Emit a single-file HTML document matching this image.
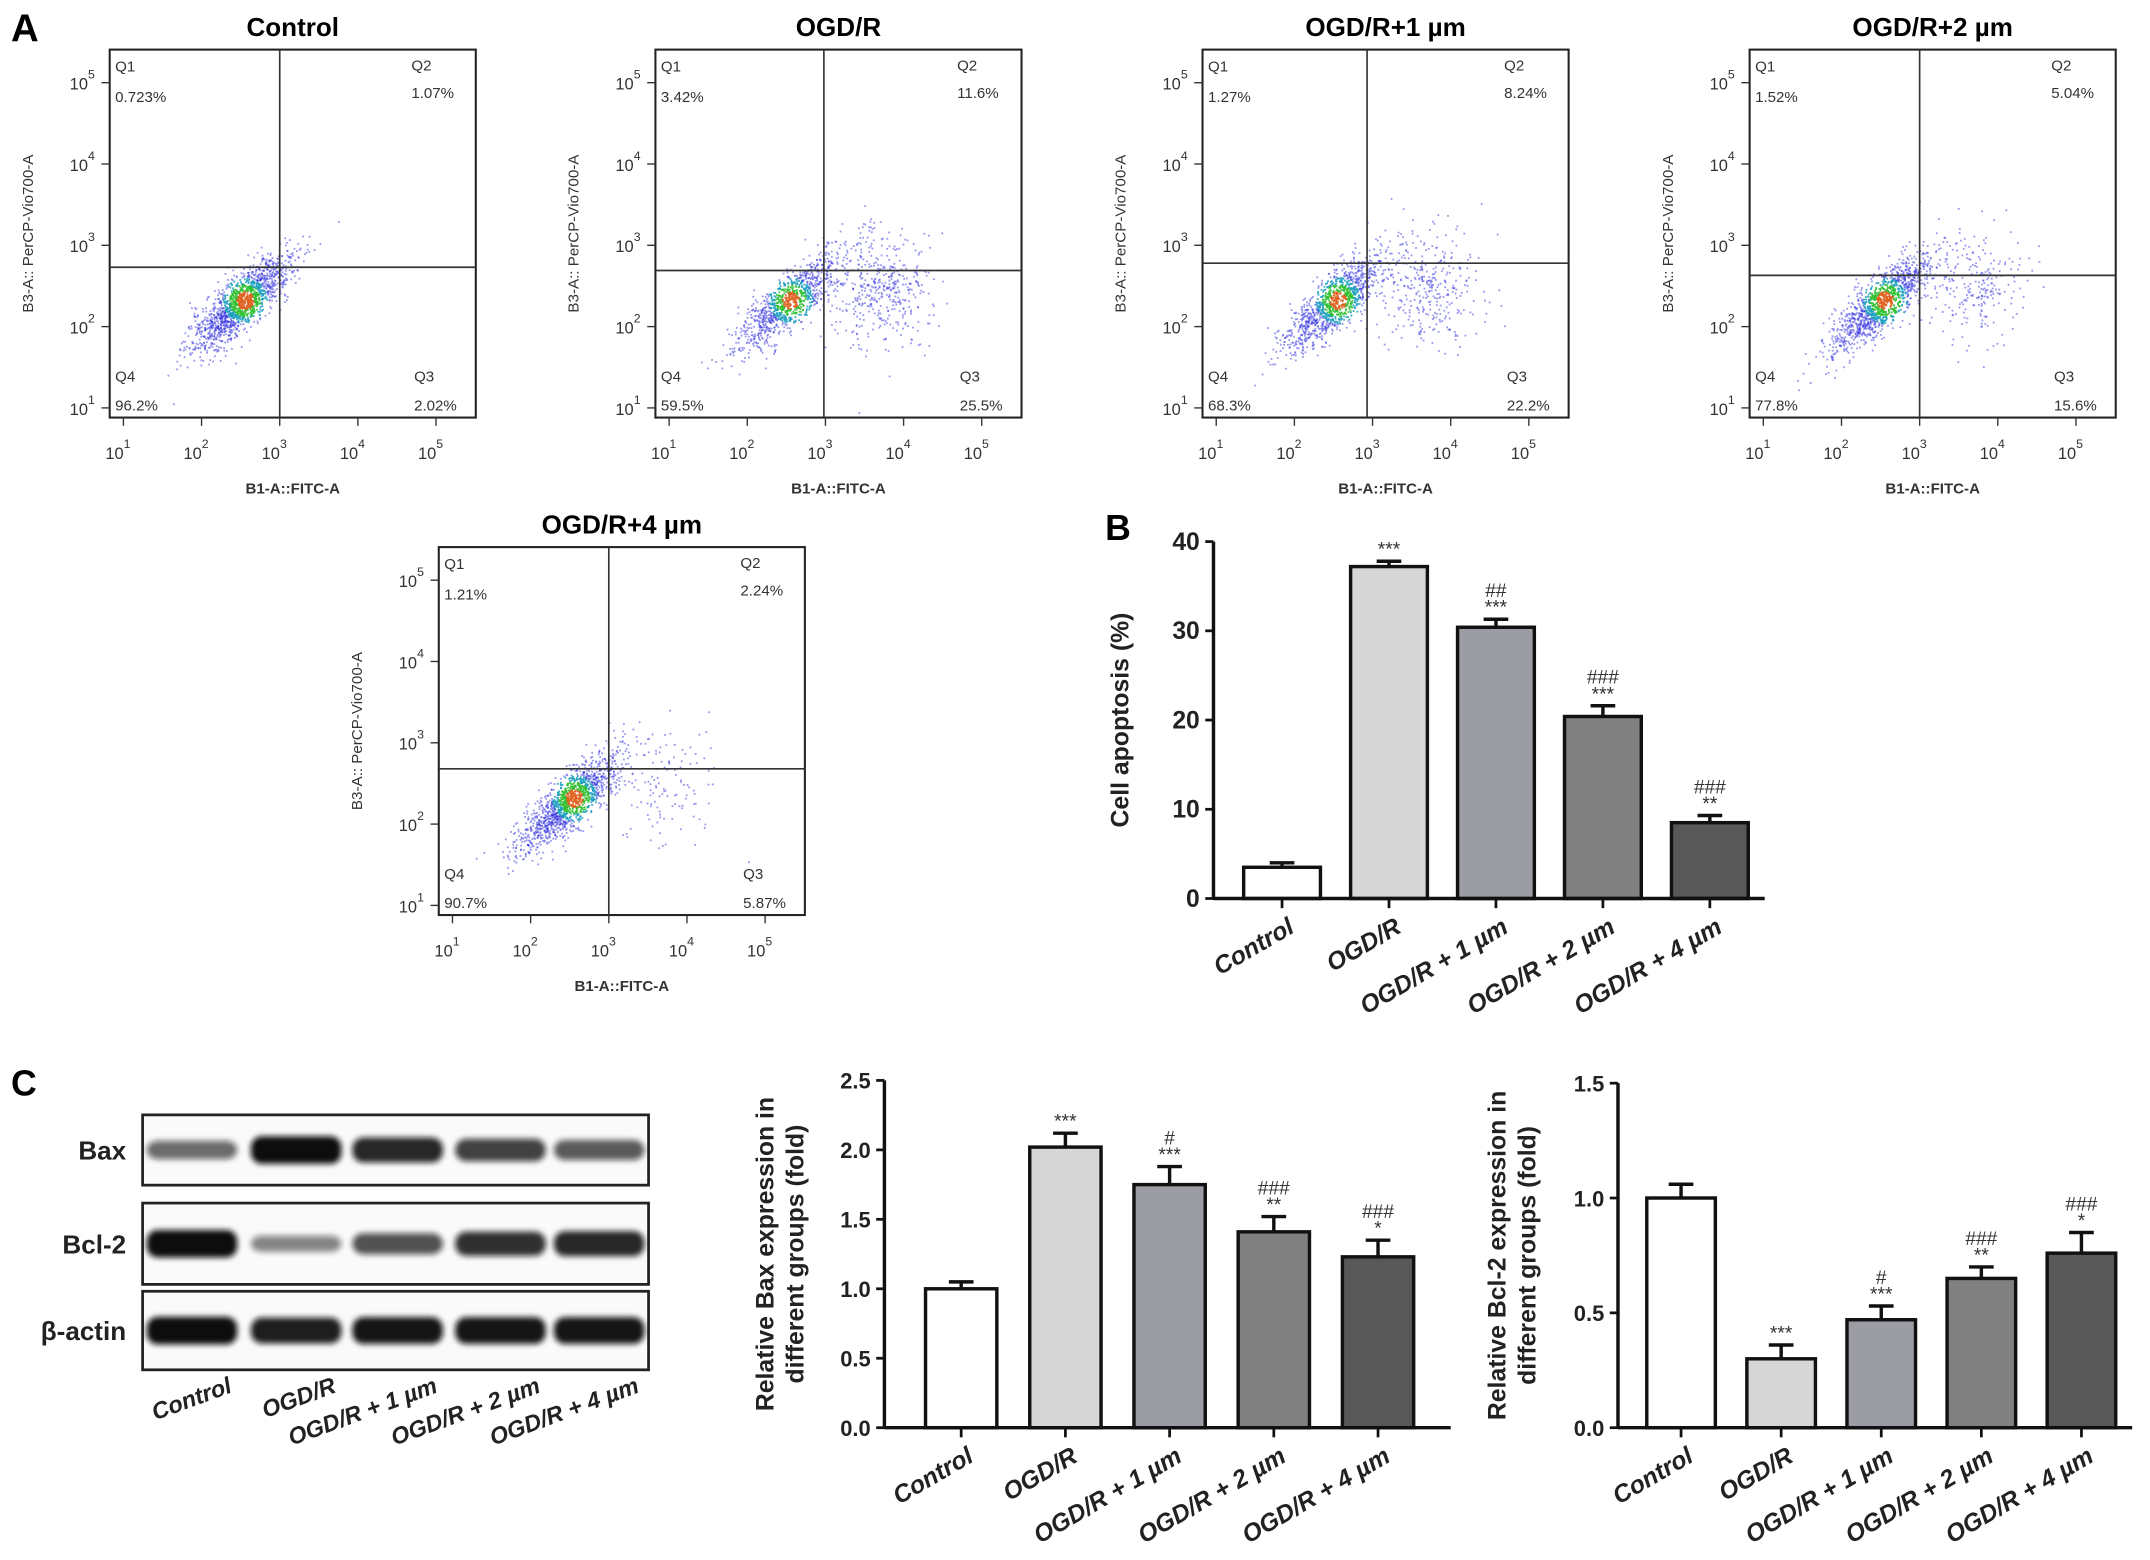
<!DOCTYPE html>
<html><head><meta charset="utf-8"><style>
html,body{margin:0;padding:0;background:#fff;}
svg{display:block;font-family:"Liberation Sans",Arial,sans-serif;}
</style></head><body>
<svg id="fig" width="2150" height="1560" viewBox="0 0 1568 1132" preserveAspectRatio="none" xmlns="http://www.w3.org/2000/svg">
<defs><filter id="blur" x="-20%" y="-50%" width="140%" height="200%"><feGaussianBlur stdDeviation="2.2"/></filter></defs>
<text x="8" y="30" font-size="28" font-weight="bold">A</text>
<text x="806" y="392" font-size="26" font-weight="bold">B</text>
<text x="8" y="795" font-size="26" font-weight="bold">C</text>
<g id="flows"></g><g id="barB"></g><g id="blot"></g><g id="barC1"></g><g id="barC2"></g>
</svg>
<script>
const NS="http://www.w3.org/2000/svg";
function mk(p,t,a,txt){const e=document.createElementNS(NS,t);for(const k in a)e.setAttribute(k,a[k]);if(txt!==undefined)e.textContent=txt;p.appendChild(e);return e;}

// ---------- Flow cytometry panels ----------
const flowTitles=["Control","OGD/R","OGD/R+1 µm","OGD/R+2 µm","OGD/R+4 µm"];
const flowQ1=["0.723%","3.42%","1.27%","1.52%","1.21%"];
const flowQ2=["1.07%","11.6%","8.24%","5.04%","2.24%"];
const flowQ3=["2.02%","25.5%","22.2%","15.6%","5.87%"];
const flowQ4=["96.2%","59.5%","68.3%","77.8%","90.7%"];
const flowVline=[3.0,2.98,2.93,3.0,3.0];
const flowHline=[2.73,2.69,2.78,2.63,2.68];
const flowSpread=[0.1,1.0,0.8,0.55,0.25];
const flowBoxes=[[80,36],[478,36],[877,36],[1276,36],[320,397]];
let seed=7;function rnd(){seed=(seed*16807)%2147483647;return seed/2147483647;}
function gauss(){return Math.sqrt(-2*Math.log(rnd()+1e-9))*Math.cos(2*Math.PI*rnd());}
const flows=document.getElementById('flows');
flowTitles.forEach((t,i)=>{
  const [bx,by]=flowBoxes[i],W=267,H=267;
  const g=mk(flows,'g',{});
  const xs=v=>bx+10+(v-1)*57, ys=v=>by+260-(v-1)*59;
  mk(g,'text',{x:bx+W/2,y:by-10,'font-size':19,'font-weight':'bold','text-anchor':'middle',},t);
  const n=1500;
  for(let k=0;k<n;k++){
    let x,y;
    if(i>0 && rnd()<0.3*flowSpread[i]){x=3.7+gauss()*0.35;y=2.5+gauss()*0.35;}
    else {const a=gauss(),b=gauss();x=2.5+a*0.32;y=2.3+a*0.24+b*0.17;}
    const dx=x-2.55,dy=y-2.33,d=dx*dx+dy*dy;
    const col=d<0.012?'#e06020':d<0.04?'#30c030':d<0.08?'#20a0c0':'#3030e0';
    const px=xs(x),py=ys(y);
    if(px>bx+2&&px<bx+W-2&&py>by+2&&py<by+H-2)
      mk(g,'rect',{x:px,y:py,width:1.3,height:1.3,fill:col,'fill-opacity':d<0.08?0.9:0.5});
  }
  mk(g,'rect',{x:bx,y:by,width:W,height:H,fill:'none',stroke:'#222','stroke-width':1.5,});
  mk(g,'line',{x1:xs(flowVline[i]),y1:by,x2:xs(flowVline[i]),y2:by+H,stroke:'#333','stroke-width':1.2,});
  mk(g,'line',{x1:bx,y1:ys(flowHline[i]),x2:bx+W,y2:ys(flowHline[i]),stroke:'#333','stroke-width':1.2,});
  const fs=11;
  mk(g,'text',{x:bx+4,y:by+16,'font-size':fs,fill:'#333'},'Q1');
  mk(g,'text',{x:bx+4,y:by+38,'font-size':fs,fill:'#333'},flowQ1[i]);
  mk(g,'text',{x:bx+W-47,y:by+15,'font-size':fs,fill:'#333'},'Q2');
  mk(g,'text',{x:bx+W-47,y:by+35,'font-size':fs,fill:'#333'},flowQ2[i]);
  mk(g,'text',{x:bx+4,y:by+241,'font-size':fs,fill:'#333'},'Q4');
  mk(g,'text',{x:bx+4,y:by+262,'font-size':fs,fill:'#333'},flowQ4[i]);
  mk(g,'text',{x:bx+W-45,y:by+241,'font-size':fs,fill:'#333'},'Q3');
  mk(g,'text',{x:bx+W-45,y:by+262,'font-size':fs,fill:'#333'},flowQ3[i]);
  for(let e=1;e<=5;e++){
    const x=xs(e),y=ys(e);
    mk(g,'line',{x1:x,y1:by+H,x2:x,y2:by+H+6,stroke:'#333'});
    mk(g,'line',{x1:bx,y1:y,x2:bx-6,y2:y,stroke:'#333'});
    const tx=mk(g,'text',{x:x-4,y:by+H+30,'font-size':12,'text-anchor':'middle',fill:'#333'},'10');
    mk(tx,'tspan',{dy:-8,'font-size':9},''+e);
    const ty=mk(g,'text',{x:bx-20,y:y+5,'font-size':12,'text-anchor':'middle',fill:'#333'},'10');
    mk(ty,'tspan',{dy:-8,'font-size':9},''+e);
  }
  mk(g,'text',{x:bx+W/2,y:by+H+55,'font-size':11,'font-weight':'bold','text-anchor':'middle',fill:'#333',},'B1-A::FITC-A');
  mk(g,'text',{x:0,y:0,transform:`translate(${bx-56},${by+H/2}) rotate(-90)`,'font-size':11,'text-anchor':'middle',fill:'#333',},'B3-A:: PerCP-Vio700-A');
});

// ---------- Bar charts ----------
const groups=["Control","OGD/R","OGD/R + 1 µm","OGD/R + 2 µm","OGD/R + 4 µm"];
const barFills=["#ffffff","#d6d6d6","#9c9ca4","#808080","#585858"];
const apopVals=[3.5,37.2,30.4,20.4,8.5];
const apopErr=[0.5,0.6,0.9,1.2,0.8];
const apopStars=["","***","***","***","**"];
const apopHash=["","","##","###","###"];
const apopTicks=[0,10,20,30,40];
const baxVals=[1.0,2.02,1.75,1.41,1.23];
const baxErr=[0.05,0.1,0.13,0.11,0.12];
const baxStars=["","***","***","**","*"];
const baxHash=["","","#","###","###"];
const baxTicks=["0.0","0.5","1.0","1.5","2.0","2.5"];
const bclVals=[1.0,0.30,0.47,0.65,0.76];
const bclErr=[0.06,0.06,0.06,0.05,0.09];
const bclStars=["","***","***","**","*"];
const bclHash=["","","#","###","###"];
const bclTicks=["0.0","0.5","1.0","1.5"];

function barChart(id,cfg){
  const g=document.getElementById(id);
  
  const y=v=>cfg.y0-(v/cfg.max)*(cfg.y0-cfg.yTop);
  const x=i=>cfg.x0+cfg.first+i*cfg.step;
  cfg.vals.forEach((v,i)=>{
    const cx=x(i),w=cfg.bw;
    const r=mk(g,'rect',{x:cx-w/2,y:y(v),width:w,height:cfg.y0-y(v),fill:barFills[i],stroke:'#111','stroke-width':2.5});
    
    
    const et=y(v+cfg.err[i]);
    mk(g,'line',{x1:cx,y1:y(v),x2:cx,y2:et,stroke:'#111','stroke-width':2.5});
    mk(g,'line',{x1:cx-9,y1:et,x2:cx+9,y2:et,stroke:'#111','stroke-width':2.5});
    if(cfg.stars[i])mk(g,'text',{x:cx,y:et-4,'font-size':14,'text-anchor':'middle',fill:'#333'},cfg.stars[i]);
    if(cfg.hash[i])mk(g,'text',{x:cx,y:et-16,'font-size':14,'text-anchor':'middle',fill:'#333'},cfg.hash[i]);
    mk(g,'line',{x1:cx,y1:cfg.y0,x2:cx,y2:cfg.y0+7,stroke:'#111','stroke-width':2});
    mk(g,'text',{x:0,y:0,transform:`translate(${cx+10},${cfg.y0+24}) rotate(-30)`,'font-size':18,'font-weight':'bold','font-style':'italic','text-anchor':'end',fill:'#222'},groups[i]);
  });
  mk(g,'line',{x1:cfg.x0,y1:cfg.yTop,x2:cfg.x0,y2:cfg.y0,stroke:'#111','stroke-width':2.5,});
  mk(g,'line',{x1:cfg.x0,y1:cfg.y0,x2:cfg.x1,y2:cfg.y0,stroke:'#111','stroke-width':2.5,});
  cfg.ticks.forEach(t=>{const yy=y(parseFloat(t));
    mk(g,'line',{x1:cfg.x0-6,y1:yy,x2:cfg.x0,y2:yy,stroke:'#111','stroke-width':2});
    mk(g,'text',{x:cfg.x0-10,y:yy+6,'font-size':cfg.tfs,'font-weight':'bold','text-anchor':'end',fill:'#222'},t);});
  cfg.title.forEach((l,k)=>mk(g,'text',{x:0,y:0,transform:`translate(${cfg.tx+k*22},${(cfg.yTop+cfg.y0)/2}) rotate(-90)`,'font-size':18,'font-weight':'bold','text-anchor':'middle',fill:'#222',},l));
}
barChart('barB',{name:'apoptosis-bar-chart',vals:apopVals,err:apopErr,stars:apopStars,hash:apopHash,ticks:apopTicks.map(String),max:40,x0:885,x1:1287,y0:652,yTop:393,first:50,step:78,bw:56,tfs:18,tx:823,title:['Cell apoptosis (%)']});
barChart('barC1',{name:'bax-bar-chart',vals:baxVals,err:baxErr,stars:baxStars,hash:baxHash,ticks:baxTicks,max:2.5,x0:645,x1:1058,y0:1036,yTop:784,first:56,step:76,bw:52,tfs:16,tx:564,title:['Relative Bax expression in','different groups (fold)']});
barChart('barC2',{name:'bcl2-bar-chart',vals:bclVals,err:bclErr,stars:bclStars,hash:bclHash,ticks:bclTicks,max:1.5,x0:1180,x1:1555,y0:1036,yTop:786,first:46,step:73,bw:50,tfs:16,tx:1098,title:['Relative Bcl-2 expression in','different groups (fold)']});

// ---------- Western blot ----------
const blotRows=["Bax","Bcl-2","β-actin"];
const bandInt=[[0.45,1,0.85,0.7,0.55],[1,0.3,0.6,0.8,0.85],[1,0.9,0.95,0.95,0.95]];
const bl=document.getElementById('blot');

const rowY=[[809,860],[873,932],[937,994]];
const lanes=[140,216,290,365,437];
blotRows.forEach((r,ri)=>{
  const [y1,y2]=rowY[ri],cy=(y1+y2)/2;
  mk(bl,'rect',{x:104,y:y1,width:369,height:y2-y1,fill:'#fafafa',stroke:'#222','stroke-width':2,});
  mk(bl,'text',{x:92,y:cy+7,'font-size':19,'font-weight':'bold','text-anchor':'end',fill:'#222'},r);
  lanes.forEach((lx,li)=>{const a=bandInt[ri][li];
    mk(bl,'rect',{x:lx-33,y:cy-(4+6*a),width:66,height:8+12*a,rx:8,fill:'#111','fill-opacity':0.3+0.7*a,filter:'url(#blur)'});});
});
lanes.forEach((lx,i)=>mk(bl,'text',{x:0,y:0,transform:`translate(${lx+30},${1010}) rotate(-20)`,'font-size':17,'font-weight':'bold','font-style':'italic','text-anchor':'end',fill:'#222'},groups[i]));
</script>
</body></html>
